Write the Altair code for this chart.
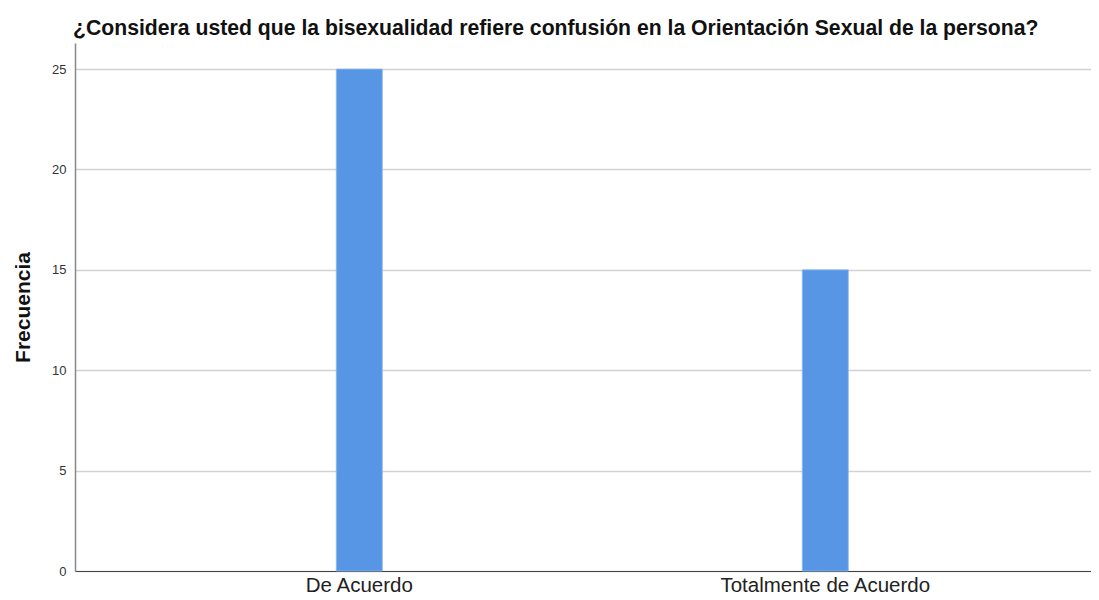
import altair as alt
import pandas as pd

categories = ["De Acuerdo", "Totalmente de Acuerdo"]
frecuencia = [25, 15]
y_ticks = [0, 5, 10, 15, 20, 25]

df = pd.DataFrame({"categoria": categories, "frecuencia": frecuencia})

chart = alt.Chart(df).mark_bar(width=46, color="#5795E5", stroke="#8fb8ee", strokeWidth=0.8).encode(
    x=alt.X("categoria:N", sort=categories,
            scale=alt.Scale(paddingInner=0, paddingOuter=0.0966, align=0.57),
            axis=alt.Axis(title=None, labelAngle=0, labelFontSize=20.5, labelColor="#222222",
                          labelFont="Liberation Sans", ticks=False, labelPadding=4, labelLimit=0,
                          domainColor="#444444", domainWidth=1.2, grid=False)),
    y=alt.Y("frecuencia:Q", scale=alt.Scale(domain=[0, 26.3], nice=False),
            axis=alt.Axis(title="Frecuencia", values=y_ticks, ticks=False, labelPadding=9,
                          labelFontSize=13, labelColor="#333333", labelFont="Liberation Sans",
                          titleFontSize=21, titleFont="Liberation Sans", titleFontWeight="bold",
                          titleColor="#111111", titlePadding=18,
                          domainColor="#888888", domainWidth=1.5,
                          grid=True, gridColor="#d2d2d2", gridWidth=1.5)),
).properties(
    width=1022,
    height=528,
    title=alt.TitleParams("¿Considera usted que la bisexualidad refiere confusión en la Orientación Sexual de la persona?",
                          anchor="start", frame="group", fontSize=21.2, font="Liberation Sans", fontWeight="bold",
                          color="#111111", offset=4, dx=-2),
    autosize=alt.AutoSizeParams(type="none"),
    padding={"left": 67, "top": 35, "right": -6, "bottom": 21},
).configure_view(stroke=None)

chart.save("out.html", embed_options={"renderer": "svg", "actions": False})
